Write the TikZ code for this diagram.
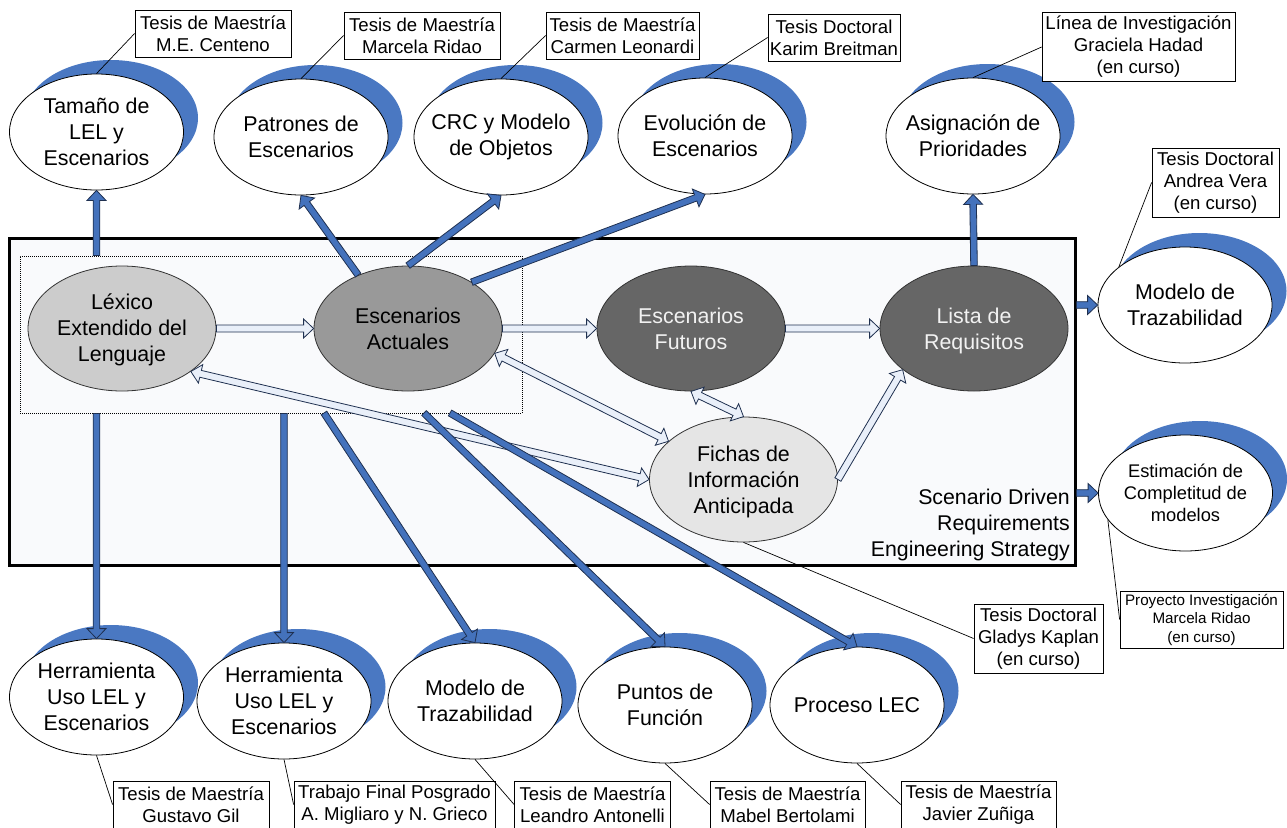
\documentclass[tikz,border=0pt]{standalone}
\usepackage{fontspec}
\setmainfont{Liberation Sans}
\usetikzlibrary{shapes.geometric,shadows,calc}
\definecolor{crescent}{HTML}{4A78C2}
\definecolor{barblue}{HTML}{4472BC}
\definecolor{barline}{HTML}{1F3050}
\definecolor{paleblue}{HTML}{E9EFF9}
\definecolor{panel}{HTML}{F9FAFC}
\newcommand\toplift[1]{\rule{0pt}{#1}}
\tikzset{
  bub/.style={ellipse,draw=black,fill=white,line width=.8pt,minimum width=174pt,minimum height=116pt,inner xsep=-20pt,inner ysep=-5pt,align=center,
    font=\fontsize{21.4}{26}\selectfont,
    general shadow={fill=crescent,draw=none,shadow xshift=14.5pt,shadow yshift=14pt}},
  core/.style={ellipse,draw=black!80,line width=.8pt,minimum width=188pt,minimum height=125pt,inner xsep=-20pt,inner ysep=-5pt,align=center,
    font=\fontsize{21.4}{26}\selectfont},
  tesis/.style={rectangle,draw=black,fill=white,line width=.8pt,inner sep=0pt,align=center,
    font=\fontsize{18.6}{22}\selectfont},
  callout/.style={draw=black,line width=.7pt},
  bluebar/.style={draw=barline,fill=barblue,line width=.8pt,line join=miter},
  whitebar/.style={draw=barline,fill=paleblue,line width=.8pt,line join=miter}
}
% single-headed block arrow: tail, tip, style, half-shaft width
\newcommand\barrow[4]{%
  \path[#3] let \p1=($(#2)-(#1)$), \n1={atan2(\y1,\x1)} in
    ($(#1)+(\n1+90:#4)$) --
    ($(#2)+(\n1:-10pt)+(\n1+90:#4)$) --
    ($(#2)+(\n1:-10pt)+(\n1+90:9.5pt)$) --
    (#2) --
    ($(#2)+(\n1:-10pt)+(\n1-90:9.5pt)$) --
    ($(#2)+(\n1:-10pt)+(\n1-90:#4)$) --
    ($(#1)+(\n1-90:#4)$) -- cycle;}
% double-headed block arrow
\newcommand\darrow[3]{%
  \path[#3] let \p1=($(#2)-(#1)$), \n1={atan2(\y1,\x1)} in
    (#1) --
    ($(#1)+(\n1:10pt)+(\n1+90:9.5pt)$) --
    ($(#1)+(\n1:10pt)+(\n1+90:3.5pt)$) --
    ($(#2)+(\n1:-10pt)+(\n1+90:3.5pt)$) --
    ($(#2)+(\n1:-10pt)+(\n1+90:9.5pt)$) --
    (#2) --
    ($(#2)+(\n1:-10pt)+(\n1-90:9.5pt)$) --
    ($(#2)+(\n1:-10pt)+(\n1-90:3.5pt)$) --
    ($(#1)+(\n1:10pt)+(\n1-90:3.5pt)$) --
    ($(#1)+(\n1:10pt)+(\n1-90:9.5pt)$) -- cycle;}
\begin{document}
\begin{tikzpicture}[x=1pt,y=-1pt]
\useasboundingbox (0,0) rectangle (1287,827);
% panels
\node[draw=black,fill=panel,line width=3pt,minimum width=1066pt,minimum height=327pt,inner sep=0pt] (sdr) at (542,401.5) {};
\node[draw=black,fill=panel,dash pattern=on 1pt off 1pt,line width=1pt,minimum width=502pt,minimum height=157pt,inner sep=0pt] (inner) at (271,334.5) {};
\node[anchor=south east,align=right,inner sep=0pt,font=\fontsize{21.3}{26}\selectfont] (sdrlabel) at (1070,561) {Scenario Driven\\Requirements\\Engineering Strategy};
% core ellipses
\node[core,fill=black!20] (lex) at (122,328.5) {\toplift{18.6pt}Léxico\\Extendido del\\Lenguaje};
\node[core,fill=black!40] (esc) at (408,328.5) {Escenarios\\Actuales};
\node[core,fill=black!60,text=black!5] (fut) at (691,328.5) {Escenarios\\Futuros};
\node[core,fill=black!60,text=black!5] (lis) at (974,328.5) {\toplift{19.6pt}Lista de\\Requisitos};
\node[core,fill=black!10] (fic) at (743.5,479.5) {\toplift{19.6pt}Fichas de\\Información\\Anticipada};
% outcome ellipses
\node[bub] (tam) at (96.5,132) {Tamaño de\\LEL y\\Escenarios};
\node[bub] (pat) at (301,137) {Patrones de\\Escenarios};
\node[bub] (crc) at (501,137) {CRC y Modelo\\de Objetos};
\node[bub] (evo) at (705,136) {Evolución de\\Escenarios};
\node[bub] (asi) at (973,136) {Asignación de\\Prioridades};
\node[bub] (mod) at (1185,305) {Modelo de\\Trazabilidad};
\node[bub,font=\fontsize{18.3}{22}\selectfont] (est) at (1185.5,493) {Estimación de\\Completitud de\\modelos};
\node[bub] (her1) at (96.5,697) {Herramienta\\Uso LEL y\\Escenarios};
\node[bub] (her2) at (284,701) {Herramienta\\Uso LEL y\\Escenarios};
\node[bub] (mod2) at (475,701) {Modelo de\\Trazabilidad};
\node[bub] (pun) at (665,705) {Puntos de\\Función};
\node[bub] (pro) at (857,705) {Proceso LEC};
% callout boxes
\node[tesis,minimum width=156pt,minimum height=47pt] (t1) at (213,33.5) {Tesis de Maestría\\M.E. Centeno};
\node[tesis,minimum width=156pt,minimum height=47pt] (t2) at (422,35.5) {Tesis de Maestría\\Marcela Ridao};
\node[tesis,minimum width=153pt,minimum height=47pt] (t3) at (622.5,35.5) {Tesis de Maestría\\Carmen Leonardi};
\node[tesis,minimum width=132pt,minimum height=47pt] (t4) at (834,37.5) {Tesis Doctoral\\Karim Breitman};
\node[tesis,minimum width=193pt,minimum height=69pt] (t5) at (1138.5,47) {Línea de Investigación\\Graciela Hadad\\(en curso)};
\node[tesis,minimum width=127pt,minimum height=69pt] (t6) at (1215.5,182.5) {Tesis Doctoral\\Andrea Vera\\(en curso)};
\node[tesis,minimum width=129pt,minimum height=69pt] (t7) at (1038.5,638.5) {Tesis Doctoral\\Gladys Kaplan\\(en curso)};
\node[tesis,minimum width=163pt,minimum height=57pt,font=\fontsize{15.2}{18.5}\selectfont] (t8) at (1201.5,619.5) {Proyecto Investigación\\Marcela Ridao\\(en curso)};
\node[tesis,minimum width=156pt,minimum height=47pt] (b1) at (191,804.5) {Tesis de Maestría\\Gustavo Gil};
\node[tesis,minimum width=201pt,minimum height=47pt] (b2) at (394.5,804.5) {Trabajo Final Posgrado\\A. Migliaro y N. Grieco};
\node[tesis,minimum width=156pt,minimum height=47pt] (b3) at (592.5,804.5) {Tesis de Maestría\\Leandro Antonelli};
\node[tesis,minimum width=155pt,minimum height=47pt] (b4) at (787.5,804.5) {Tesis de Maestría\\Mabel Bertolami};
\node[tesis,minimum width=155pt,minimum height=47pt] (b5) at (978.5,804.5) {Tesis de Maestría\\Javier Zuñiga};
% callout lines
\draw[callout] (t1.west) -- (tam.north);
\draw[callout] (t2.west) -- (pat.north);
\draw[callout] (t3.west) -- (crc.north);
\draw[callout] (t4.west) -- (evo.north);
\draw[callout] (t5.west) -- (asi.north);
\draw[callout] (t6.west) -- (mod.150);
\draw[callout] (t7.west) -- (fic.south);
\draw[callout] (t8.west) -- (est.199);
\draw[callout] (b1.west) -- (her1.south);
\draw[callout] (b2.west) -- (her2.south);
\draw[callout] (b3.west) -- (mod2.south);
\draw[callout] (b4.west) -- (pun.south);
\draw[callout] (b5.west) -- (pro.south);
% free tails
\coordinate (tailTam) at (inner.north -| tam.south);
\coordinate (tailHer1) at (inner.south -| her1.north);
\coordinate (tailHer2) at (inner.south -| her2.north);
\coordinate (tailMod2) at (324,413);
\coordinate (tailPun) at (424,413);
\coordinate (tailPro) at (450,413);
\coordinate (tailMod) at (sdr.east |- mod.west);
\coordinate (tailEst) at (sdr.east |- est.west);
% white arrows
\barrow{lex.east}{esc.west}{whitebar}{3.5pt}
\barrow{esc.east}{fut.west}{whitebar}{3.5pt}
\barrow{fut.east}{lis.west}{whitebar}{3.5pt}
\barrow{fic.east}{lis.210}{whitebar}{3.5pt}
\darrow{lex.-32}{fic.west}{whitebar}
\darrow{esc.-16}{fic.153}{whitebar}
\darrow{fut.south}{fic.north}{whitebar}
% blue arrows
\barrow{tailTam}{tam.south}{bluebar}{3.3pt}
\barrow{esc.133}{pat.south}{bluebar}{3.3pt}
\barrow{esc.north}{crc.south}{bluebar}{3.3pt}
\barrow{esc.36}{evo.south}{bluebar}{3.3pt}
\barrow{lis.north}{asi.south}{bluebar}{3.3pt}
\barrow{tailMod}{mod.west}{bluebar}{3.3pt}
\barrow{tailEst}{est.west}{bluebar}{3.3pt}
\barrow{tailHer1}{her1.north}{bluebar}{3.3pt}
\barrow{tailHer2}{her2.north}{bluebar}{3.3pt}
\barrow{tailMod2}{mod2.north}{bluebar}{3.3pt}
\barrow{tailPun}{pun.north}{bluebar}{3.3pt}
\barrow{tailPro}{pro.north}{bluebar}{3.3pt}
\end{tikzpicture}
\end{document}
